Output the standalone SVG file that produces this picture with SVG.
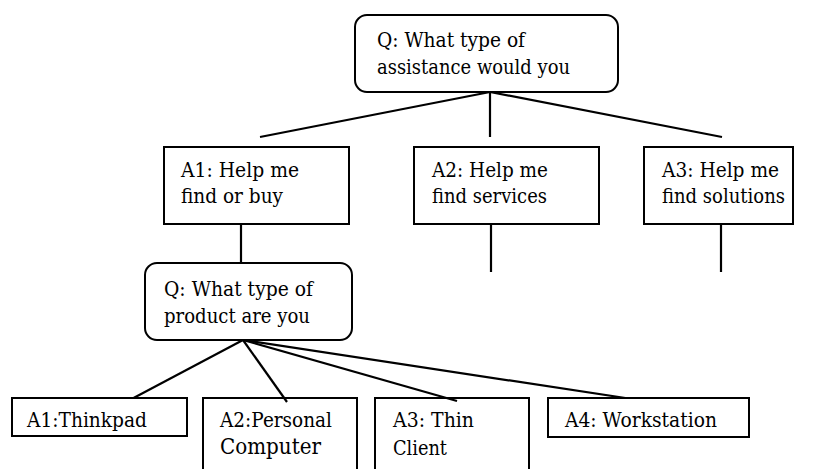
<svg xmlns="http://www.w3.org/2000/svg" width="819" height="469" viewBox="0 0 819 469">
<style>
.box{fill:#fff;stroke:#000;stroke-width:2}
.open{fill:none;stroke:#000;stroke-width:2}
.c line{stroke:#000;stroke-width:2.2}
text{font-family:'DejaVu Serif','Liberation Serif',serif;font-size:20.5px;fill:#000}
</style>
<rect width="819" height="469" fill="#fff"/>
<g class="c" id="connectors">
<line x1="490" y1="92" x2="260" y2="137"/>
<line x1="490" y1="92" x2="490" y2="137"/>
<line x1="490" y1="92" x2="722" y2="137"/>
<line x1="491" y1="224" x2="491" y2="272"/>
<line x1="721" y1="224" x2="721" y2="272"/>
<line x1="241" y1="224" x2="241" y2="271"/>
<line x1="243" y1="340" x2="126" y2="402"/>
<line x1="243" y1="340" x2="287" y2="402"/>
<line x1="243" y1="340" x2="457" y2="401"/>
<line x1="243" y1="340" x2="645" y2="401"/>
</g>
<g id="q1">
<rect class="box" x="355" y="15" width="263" height="77" rx="12"/>
<text x="377" y="47" textLength="148" lengthAdjust="spacingAndGlyphs">Q: What type of</text>
<text x="377" y="74" textLength="193" lengthAdjust="spacingAndGlyphs">assistance would you</text>
</g>
<g id="a1">
<rect class="box" x="164" y="147" width="185" height="77"/>
<text x="181" y="177" textLength="118" lengthAdjust="spacingAndGlyphs">A1: Help me</text>
<text x="181" y="203" textLength="102" lengthAdjust="spacingAndGlyphs">find or buy</text>
</g>
<g id="a2">
<rect class="box" x="414" y="147" width="185" height="77"/>
<text x="432" y="177" textLength="116" lengthAdjust="spacingAndGlyphs">A2: Help me</text>
<text x="432" y="203" textLength="115" lengthAdjust="spacingAndGlyphs">find services</text>
</g>
<g id="a3">
<rect class="box" x="644" y="147" width="149" height="77"/>
<text x="662" y="177" textLength="117" lengthAdjust="spacingAndGlyphs">A3: Help me</text>
<text x="662" y="203" textLength="123" lengthAdjust="spacingAndGlyphs">find solutions</text>
</g>
<g id="q2">
<rect class="box" x="145" y="263" width="207" height="77" rx="12"/>
<text x="164" y="296" textLength="149" lengthAdjust="spacingAndGlyphs">Q: What type of</text>
<text x="164" y="323" textLength="146" lengthAdjust="spacingAndGlyphs">product are you</text>
</g>
<g id="b1">
<rect class="box" x="12" y="398" width="175" height="38"/>
<text x="27" y="427" textLength="120" lengthAdjust="spacingAndGlyphs">A1:Thinkpad</text>
</g>
<g id="b2">
<path class="open" d="M203 469V398H357V469"/>
<text x="220" y="427" textLength="112" lengthAdjust="spacingAndGlyphs">A2:Personal</text>
<text x="220" y="454" textLength="101" lengthAdjust="spacingAndGlyphs" style="font-size:23px">Computer</text>
</g>
<g id="b3">
<path class="open" d="M375 469V398H529V469"/>
<text x="393" y="427" textLength="81" lengthAdjust="spacingAndGlyphs">A3: Thin</text>
<text x="393" y="455" textLength="54" lengthAdjust="spacingAndGlyphs">Client</text>
</g>
<g id="b4">
<rect class="box" x="548" y="398" width="201" height="39"/>
<text x="565" y="427" textLength="152" lengthAdjust="spacingAndGlyphs">A4: Workstation</text>
</g>
</svg>
